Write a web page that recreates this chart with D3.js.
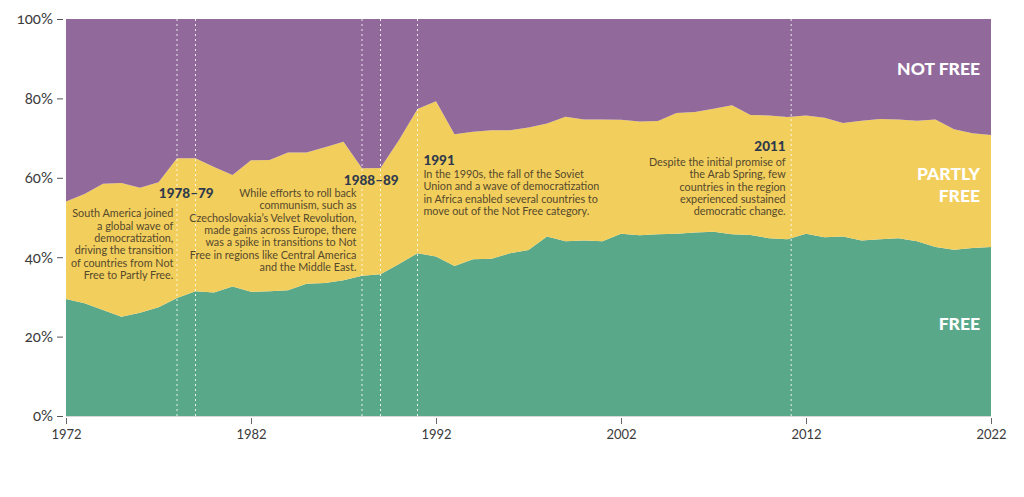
<!DOCTYPE html>
<html><head><meta charset="utf-8">
<script src="https://cdn.jsdelivr.net/npm/d3@7"></script>
<style>
html,body{margin:0;padding:0;background:#fff;}
svg{display:block;}
.ax text{font-family:Lato, "Open Sans", sans-serif; fill:#3a3a3a;}
</style></head>
<body>
<svg id="c" width="1024" height="497"></svg>
<script>
const years = d3.range(1972, 2023);
const free = [29.5,28.4,26.7,25.0,26.0,27.4,29.7,31.4,31.1,32.6,31.3,31.4,31.7,33.3,33.5,34.2,35.3,35.7,38.3,41.0,40.2,37.8,39.5,39.6,41.0,41.8,45.2,44.0,44.2,44.0,45.9,45.5,45.8,45.9,46.2,46.4,45.8,45.6,44.8,44.5,45.9,45.0,45.2,44.2,44.5,44.8,44.0,42.6,41.9,42.3,42.6];
const partlyFree = [24.5,27.5,31.8,33.7,31.5,31.5,35.2,33.5,31.6,28.1,33.1,33.1,34.7,33.1,34.2,34.9,27.1,26.8,31.2,36.3,39.1,33.2,32.1,32.4,31.0,30.9,28.5,31.4,30.5,30.7,28.7,28.7,28.5,30.4,30.4,31.0,32.5,30.2,30.9,30.8,29.8,30.1,28.6,30.2,30.3,29.9,30.4,32.1,30.3,28.9,28.2];
const notFree = [46.0,44.1,41.5,41.3,42.5,41.1,35.1,35.1,37.3,39.3,35.6,35.5,33.6,33.6,32.3,30.9,37.6,37.5,30.5,22.7,20.7,29.0,28.4,28.0,28.0,27.3,26.3,24.6,25.3,25.3,25.4,25.8,25.7,23.7,23.4,22.6,21.7,24.2,24.3,24.7,24.3,24.9,26.2,25.6,25.2,25.3,25.6,25.3,27.8,28.8,29.2];
const seriesKeys = ["free","partlyFree","notFree"];
const seriesColors = ["#5aa88a","#f2ce5c","#91699b"];
const seriesLabels = [["FREE"],["PARTLY","FREE"],["NOT FREE"]];
const yTicks = [0,20,40,60,80,100];
const xTicks = [1972,1982,1992,2002,2012,2022];
const markerYears = [1978,1979,1988,1989,1991,2011.2];
const notes = [
  {title:"1978–79", titleX:1978.5, titleAnchor:"middle", anchor:"end", textX:1977.8, lines:["South America joined","a global wave of","democratization,","driving the transition","of countries from Not","Free to Partly Free."], titleY:54.9, startY:50.1},
  {title:"1988–89", titleX:1988.5, titleAnchor:"middle", anchor:"end", textX:1987.7, lines:["While efforts to roll back","communism, such as","Czechoslovakia’s Velvet Revolution,","made gains across Europe, there","was a spike in transitions to Not","Free in regions like Central America","and the Middle East."], titleY:58.2, startY:55.2},
  {title:"1991", titleX:1991.32, titleAnchor:"start", anchor:"start", textX:1991.32, lines:["In the 1990s, the fall of the Soviet","Union and a wave of democratization","in Africa enabled several countries to","move out of the Not Free category."], titleY:63.2, startY:60.0},
  {title:"2011", titleX:2010.9, titleAnchor:"end", anchor:"end", textX:2010.9, lines:["Despite the initial promise of","the Arab Spring, few","countries in the region","experienced sustained","democratic change."], titleY:66.8, startY:63.0}
];

const table = years.map((y,i)=>({year:y, free:free[i], partlyFree:partlyFree[i], notFree:notFree[i]}));
const svg = d3.select("#c");
const x = d3.scaleLinear().domain([1972,2022]).range([66,991]);
const y = d3.scaleLinear().domain([0,100]).range([416,19]);

const stack = d3.stack().keys(seriesKeys)(table);
const area = d3.area().x(d=>x(d.data.year)).y0(d=>y(d[0])).y1(d=>y(d[1]));
svg.append("g").selectAll("path").data(stack).join("path")
  .attr("d", area).attr("fill",(d,i)=>seriesColors[i]);

// dashed markers
svg.append("g").selectAll("line").data(markerYears).join("line")
  .attr("x1",d=>x(d)).attr("x2",d=>x(d)).attr("y1",y(100)).attr("y2",y(0))
  .attr("stroke","#fff").attr("stroke-width",1).attr("stroke-dasharray","2,3").attr("opacity",0.85);

// baseline
svg.append("line").attr("x1",x(1972)).attr("x2",x(2022)).attr("y1",y(0)+0.5).attr("y2",y(0)+0.5).attr("stroke","#d8d8d8");

// y axis
const ya = svg.append("g").attr("class","ax").attr("transform","translate(63,0)")
  .call(d3.axisLeft(y).tickValues(yTicks).tickFormat(d=>d+"%").tickSize(6).tickPadding(4));
ya.select(".domain").remove();
ya.selectAll("line").attr("stroke","#555");
ya.selectAll("text").style("font-size","15px").style("font-variant-numeric","oldstyle-nums");

// x axis
const xa = svg.append("g").attr("class","ax").attr("transform","translate(0,418)")
  .call(d3.axisBottom(x).tickValues(xTicks).tickFormat(d3.format("d")).tickSize(6).tickPadding(6));
xa.select(".domain").remove();
xa.selectAll("line").attr("stroke","#666");
xa.selectAll("text").style("font-size","13px");

// annotations
const ng = svg.append("g").style("font-family","Lato, 'Open Sans', sans-serif");
notes.forEach(n=>{
  ng.append("text").attr("x",x(n.titleX)).attr("y",y(n.titleY)).attr("text-anchor", n.titleAnchor)
    .style("font-size","13.5px").style("font-weight","900").attr("fill","#2f3a4c").text(n.title);
  const t = ng.append("text").attr("text-anchor",n.anchor).style("font-size","10.8px").attr("fill","#55492c");
  n.lines.forEach((l,i)=>{
    t.append("tspan").attr("x",x(n.textX)).attr("y",y(n.startY)+i*12.4).text(l);
  });
});

// series labels
const labelY = [[324],[174,196],[69]];
const lg = svg.append("g").style("font-family","Lato, 'Open Sans', sans-serif");
seriesLabels.forEach((lines,i)=>{
  lines.forEach((l,j)=>{
    lg.append("text").attr("x",980).attr("y",labelY[i][j]+6).attr("text-anchor","end")
      .style("font-size","17.5px").style("font-weight","900").attr("fill","#fff").text(l);
  });
});
</script>
</body></html>
